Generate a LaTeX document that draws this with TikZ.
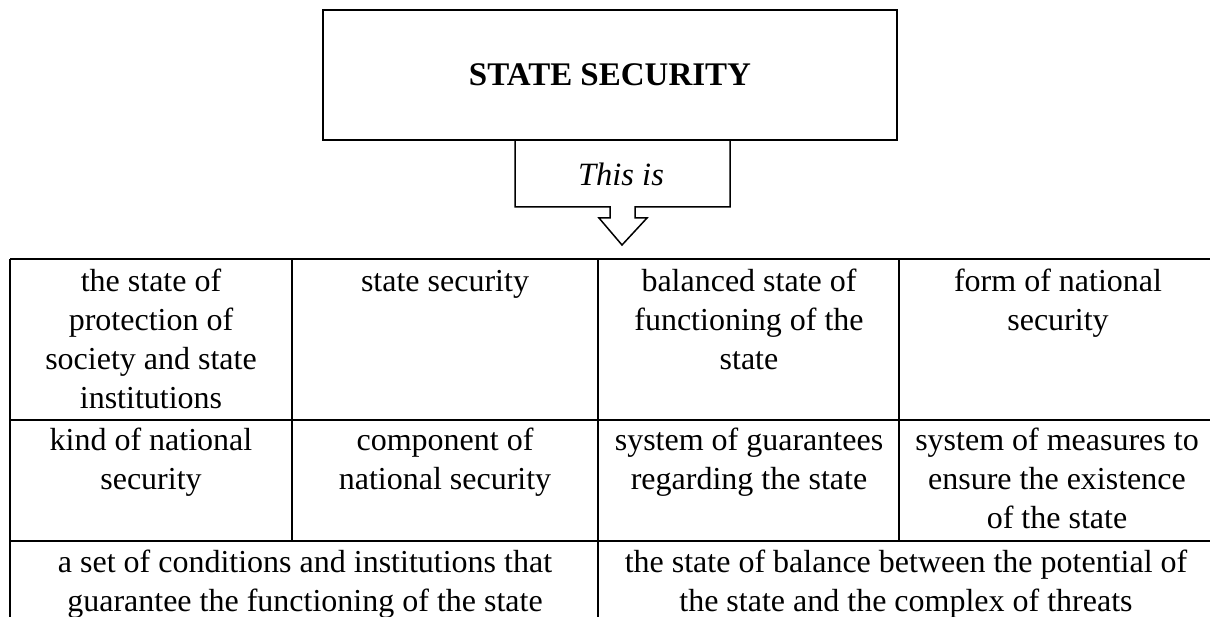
\documentclass[tikz,border=0pt]{standalone}
\usepackage{fontspec}
\setmainfont{Liberation Serif}
\newcommand{\fl}{\rule{0pt}{24pt}}
\begin{document}
\begin{tikzpicture}[x=1pt,y=-1pt,
  rule/.style={line width=1.5pt, draw=black},
  celltext/.style={anchor=north, inner sep=0pt, align=center,
    font=\fontsize{32}{39}\selectfont}]
\useasboundingbox (0,0) rectangle (1210,617);
% title box
\node[draw, line width=2pt, minimum width=574pt, minimum height=130pt, inner sep=0pt,
  font=\fontsize{33}{37}\selectfont\bfseries] (title) at (610,75) {STATE SECURITY};
% callout
\draw[rule] (515,140) -- (515,207) -- (610,207) -- (610,218) -- (599,218) -- (622,245)
  -- (647,218) -- (635,218) -- (635,207) -- (730,207) -- (730,140);
\node[inner sep=0pt, font=\fontsize{32.5}{37}\selectfont\itshape] (thisis) at (621,174) {This is};
% table grid
\draw[rule] (10,259) -- (1215,259);
\draw[rule] (10,420) -- (1215,420);
\draw[rule] (10,541) -- (1215,541);
\draw[rule] (10,259) -- (10,620);
\draw[rule] (292,259) -- (292,541);
\draw[rule] (598,259) -- (598,620);
\draw[rule] (899,259) -- (899,541);
% row 1
\node[celltext] (r1c1) at (151,267) {\fl the state of\\protection of\\society and state\\institutions};
\node[celltext] (r1c2) at (445,267) {\fl state security};
\node[celltext] (r1c3) at (749,267) {\fl balanced state of\\functioning of the\\state};
\node[celltext] (r1c4) at (1058,267) {\fl form of national\\security};
% row 2
\node[celltext] (r2c1) at (151,426) {\fl kind of national\\security};
\node[celltext] (r2c2) at (445,426) {\fl component of\\national security};
\node[celltext] (r2c3) at (749,426) {\fl system of guarantees\\regarding the state};
\node[celltext] (r2c4) at (1057,426) {\fl system of measures to\\ensure the existence\\of the state};
% row 3
\node[celltext] (r3c1) at (305,548) {\fl a set of conditions and institutions that\\guarantee the functioning of the state};
\node[celltext] (r3c2) at (906,548) {\fl the state of balance between the potential of\\the state and the complex of threats};
\end{tikzpicture}
\end{document}
